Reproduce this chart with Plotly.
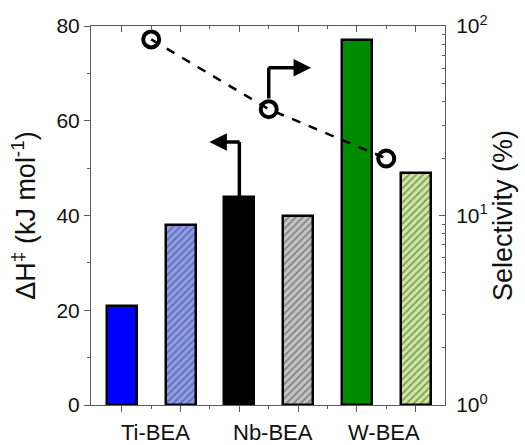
import plotly.graph_objects as go

# ---- data ----
bar_positions = [0, 1, 2, 3, 4, 5]
bar_values = [21, 38, 44, 40, 77, 49]           # ΔH‡ (kJ/mol)
bar_colors = ["#0000ff", "#8c9cf6", "#000000", "#c4c4c4", "#008a00", "#cceb99"]
bar_hatch = ["", "/", "", "/", "", "/"]
hatch_colors = ["#0000ff", "#4a58a8", "#000000", "#5a5a5a", "#008a00", "#4f6f35"]

sel_positions = [0.5, 2.5, 4.5]
sel_values = [85, 36.4, 20]                     # Selectivity (%)

categories = ["Ti-BEA", "Nb-BEA", "W-BEA"]
category_label_x = [0.58, 2.57, 4.46]

FONT = "Liberation Sans, Arial, sans-serif"
AX = "#5a5a5a"
TXT = "#111"

fig = go.Figure()

fig.add_trace(go.Bar(
    x=bar_positions, y=bar_values, width=0.51,
    marker=dict(color=bar_colors,
                line=dict(color="black", width=2.5),
                pattern=dict(shape=bar_hatch, fgcolor=hatch_colors,
                             bgcolor=bar_colors, size=5, solidity=0.35)),
    showlegend=False, hoverinfo="skip", xaxis="x", yaxis="y"))

fig.add_trace(go.Scatter(
    x=sel_positions, y=sel_values, mode="lines+markers",
    line=dict(color="black", width=2.5, dash="dash"),
    marker=dict(symbol="circle-open", size=16, color="black",
                line=dict(color="black", width=4)),
    showlegend=False, xaxis="x", yaxis="y2"))

# invisible trace to hold the top axis
fig.add_trace(go.Scatter(x=[0], y=[0], mode="markers", marker=dict(opacity=0),
                         showlegend=False, hoverinfo="skip", xaxis="x2", yaxis="y"))

xr = [-0.525, 5.5]
fig.update_layout(
    width=525, height=445,
    margin=dict(l=91, r=71, t=24, b=40),
    paper_bgcolor="white", plot_bgcolor="white",
    font=dict(family=FONT, size=21, color=TXT),
    bargap=0,
    xaxis=dict(range=xr, showgrid=False, zeroline=False, showline=True,
               linecolor=AX, linewidth=1, tickmode="array",
               tickvals=bar_positions, ticks="outside", ticklen=6,
               tickcolor=AX, showticklabels=False,
               minor=dict(tickvals=[0.5, 1.5, 2.5, 3.5, 4.5], ticks="outside",
                          ticklen=3, tickcolor=AX)),
    xaxis2=dict(range=xr, overlaying="x", side="top", showgrid=False,
                zeroline=False, showline=True, linecolor=AX, linewidth=1,
                tickmode="array", tickvals=bar_positions, ticks="inside",
                ticklen=6, tickcolor=AX, showticklabels=False,
                minor=dict(tickvals=[0.5, 1.5, 2.5, 3.5, 4.5], ticks="inside",
                           ticklen=3, tickcolor=AX)),
    yaxis=dict(range=[0, 80], showgrid=False, zeroline=False, showline=True,
               linecolor=AX, linewidth=1, tickmode="array",
               tickvals=[0, 20, 40, 60, 80], ticks="outside", ticklen=6,
               tickcolor=AX, tickfont=dict(size=21, family=FONT, color=TXT),
               minor=dict(tickvals=[10, 30, 50, 70], ticks="outside",
                          ticklen=3, tickcolor=AX),
               title=dict(text="ΔH<sup>‡</sup> (kJ mol<sup>-1</sup>)",
                          font=dict(size=27, family=FONT, color=TXT), standoff=12)),
    yaxis2=dict(type="log", range=[0, 2], overlaying="y", side="right",
                showgrid=False, zeroline=False, showline=True, linecolor=AX,
                linewidth=1, tickmode="array", tickvals=[1, 10, 100],
                ticktext=["10<sup>0</sup>", "10<sup>1</sup>", "10<sup>2</sup>"],
                ticks="inside", ticklen=6, tickcolor=AX, ticklabelstandoff=6,
                tickfont=dict(size=21, family=FONT, color=TXT),
                minor=dict(tickvals=[2, 3, 4, 5, 6, 7, 8, 9,
                                     20, 30, 40, 50, 60, 70, 80, 90],
                           ticks="inside", ticklen=3, tickcolor=AX),
                title=dict(text="Selectivity (%)",
                           font=dict(size=27, family=FONT, color=TXT), standoff=6)),
)

# category labels
for cx, name in zip(category_label_x, categories):
    fig.add_annotation(x=cx, y=0, xref="x", yref="paper", text=name,
                       showarrow=False, yanchor="top", yshift=-13,
                       font=dict(size=22, family=FONT, color=TXT))

# axis-pointer arrows
fig.add_shape(type="line", xref="x", yref="y", x0=2.5, x1=2.5, y0=64.7, y1=71.2,
              line=dict(color="black", width=3.5))
fig.add_annotation(xref="x", yref="y", axref="x", ayref="y",
                   x=3.22, y=71.2, ax=2.47, ay=71.2, text="", showarrow=True,
                   arrowhead=2, arrowsize=1, arrowwidth=3.5, arrowcolor="black")
fig.add_shape(type="line", xref="x", yref="y", x0=2.0, x1=2.0, y0=44, y1=55.5,
              line=dict(color="black", width=3.5))
fig.add_annotation(xref="x", yref="y", axref="x", ayref="y",
                   x=1.49, y=55.5, ax=2.03, ay=55.5, text="", showarrow=True,
                   arrowhead=2, arrowsize=1, arrowwidth=3.5, arrowcolor="black")

fig.write_html("out.html", config={"displayModeBar": False},
               post_script="document.body.style.margin='0';"
                           "document.body.style.overflow='hidden';")
